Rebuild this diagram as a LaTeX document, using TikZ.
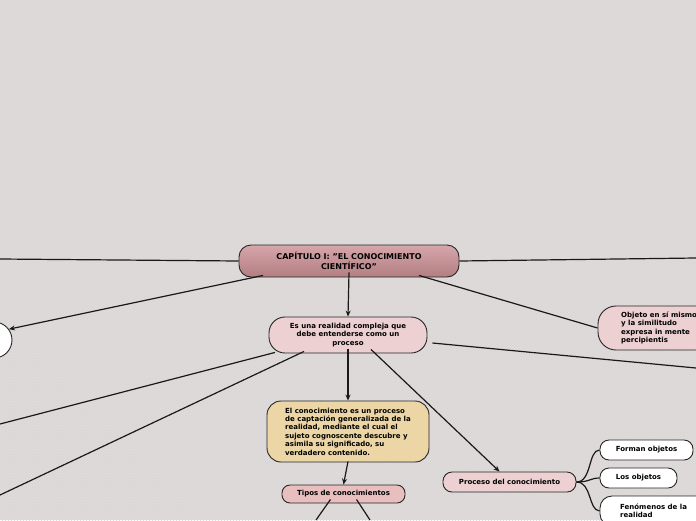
\documentclass[tikz,border=0pt]{standalone}
\usepackage{fontspec}
\setmainfont{DejaVu Sans}
\usetikzlibrary{arrows.meta,patterns,calc}
\definecolor{bgc}{RGB}{224,220,220}
\definecolor{hatch}{RGB}{216,212,212}
\definecolor{pinkc}{RGB}{237,208,209}
\definecolor{pinkd}{RGB}{232,190,191}
\definecolor{tanc}{RGB}{236,214,166}
\definecolor{maintop}{RGB}{214,166,170}
\definecolor{mainbot}{RGB}{178,126,130}
\tikzset{
  box/.style={draw=black!85, line width=0.9pt, font=\bfseries\fontsize{7}{8.4}\selectfont, align=center, inner sep=0pt, anchor=center},
  lbl/.style={font=\bfseries\fontsize{7}{8.4}\selectfont, align=left, inner sep=0pt, anchor=west},
  conn/.style={line width=1.2pt, draw=black!90},
  arr/.style={conn, -{Stealth[length=6pt,width=5pt]}},
}
\begin{document}
\begin{tikzpicture}[x=1pt,y=-1pt]
\useasboundingbox (0,0) rectangle (696,520);
\fill[bgc] (0,0) rectangle (696,520);
\fill[pattern=north east lines, pattern color=hatch] (0,0) rectangle (696,520);

% nodes
\node[box, minimum width=220pt, minimum height=32pt, rounded corners=12pt, top color=maintop, bottom color=mainbot, font=\bfseries\fontsize{8}{9.4}\selectfont] (main) at (349,261) {CAPÍTULO I: "EL CONOCIMIENTO\\CIENTÍFICO"};
\node[box, minimum width=158pt, minimum height=36pt, rounded corners=16pt, fill=pinkc] (n2) at (348,335) {Es una realidad compleja que\\debe entenderse como un\\proceso};
\node[box, minimum width=162pt, minimum height=61pt, rounded corners=14pt, fill=tanc, align=left] (n3) at (348,431.5) {El conocimiento es un proceso\\de captación generalizada de la\\realidad, mediante el cual el\\sujeto cognoscente descubre y\\asimila su significado, su\\verdadero contenido.};
\node[box, minimum width=123pt, minimum height=18pt, rounded corners=8pt, fill=pinkd] (n4) at (343.5,494) {Tipos de conocimientos};
\node[box, minimum width=133pt, minimum height=20pt, rounded corners=9pt, fill=pinkc] (n5) at (509.5,482) {Proceso del conocimiento};
\node[box, minimum width=124pt, minimum height=44pt, rounded corners=18pt, fill=pinkc] (n6) at (660,328) {};
\node[lbl] (n6t) at (621,328) {Objeto en sí mismo\\y la similitudo\\expresa in mente\\percipientis};
\node[box, minimum width=93pt, minimum height=20pt, rounded corners=9pt, fill=white] (n7) at (646.5,450) {Forman objetos};
\node[box, minimum width=77pt, minimum height=20pt, rounded corners=9pt, fill=white] (n8) at (638.5,478) {Los objetos};
\node[box, minimum width=112pt, minimum height=30pt, rounded corners=12pt, fill=white] (n9) at (656,511) {};
\node[lbl] (n9t) at (620,511) {Fenómenos de la\\realidad};
\node[draw=black!85, line width=0.9pt, fill=white, circle, minimum size=36pt, inner sep=0pt] (c1) at (-6,340) {};

% free ends
\coordinate (eL1) at (0,259);
\coordinate (eR1) at (696,258);
\coordinate (eR2) at (696,368);
\coordinate (eL2) at (0,424);
\coordinate (eL3) at (0,495);
\coordinate (eB1) at (316,520);
\coordinate (eB2) at (370,520);

% connectors
\draw[conn] (main.west) -- (eL1);
\draw[conn] (main.east) -- (eR1);
\draw[arr] ([xshift=-86pt,yshift=2pt]main.south) -- (c1.36);
\draw[arr] ([yshift=5pt]main.south) -- (n2.north);
\draw[conn] ([xshift=70pt,yshift=2pt]main.south) -- (n6.west);
\draw[conn] ([xshift=5pt,yshift=-8pt]n2.east) -- (eR2);
\draw[conn] ([xshift=-73pt,yshift=1pt]n2.south) -- (eL2);
\draw[conn] ([xshift=-44pt,yshift=2pt]n2.south) -- (eL3);
\draw[arr] ([yshift=4pt]n2.south) -- (n3.north);
\draw[arr] ([xshift=23pt,yshift=4pt]n2.south) -- ([xshift=-10pt]n5.north);
\draw[arr] ([yshift=1pt]n3.south) -- (n4.north);
\draw[conn] ([xshift=-13pt,yshift=4pt]n4.south) -- (eB1);
\draw[conn] ([xshift=13pt,yshift=4pt]n4.south) -- (eB2);
\draw[conn] (n5.east) .. controls (592,482) and (588,450) .. (n7.west);
\draw[conn] (n5.east) .. controls (590,482) and (590,478) .. (n8.west);
\draw[conn] (n5.east) .. controls (592,482) and (588,510) .. (n9.west);
\end{tikzpicture}
\end{document}
